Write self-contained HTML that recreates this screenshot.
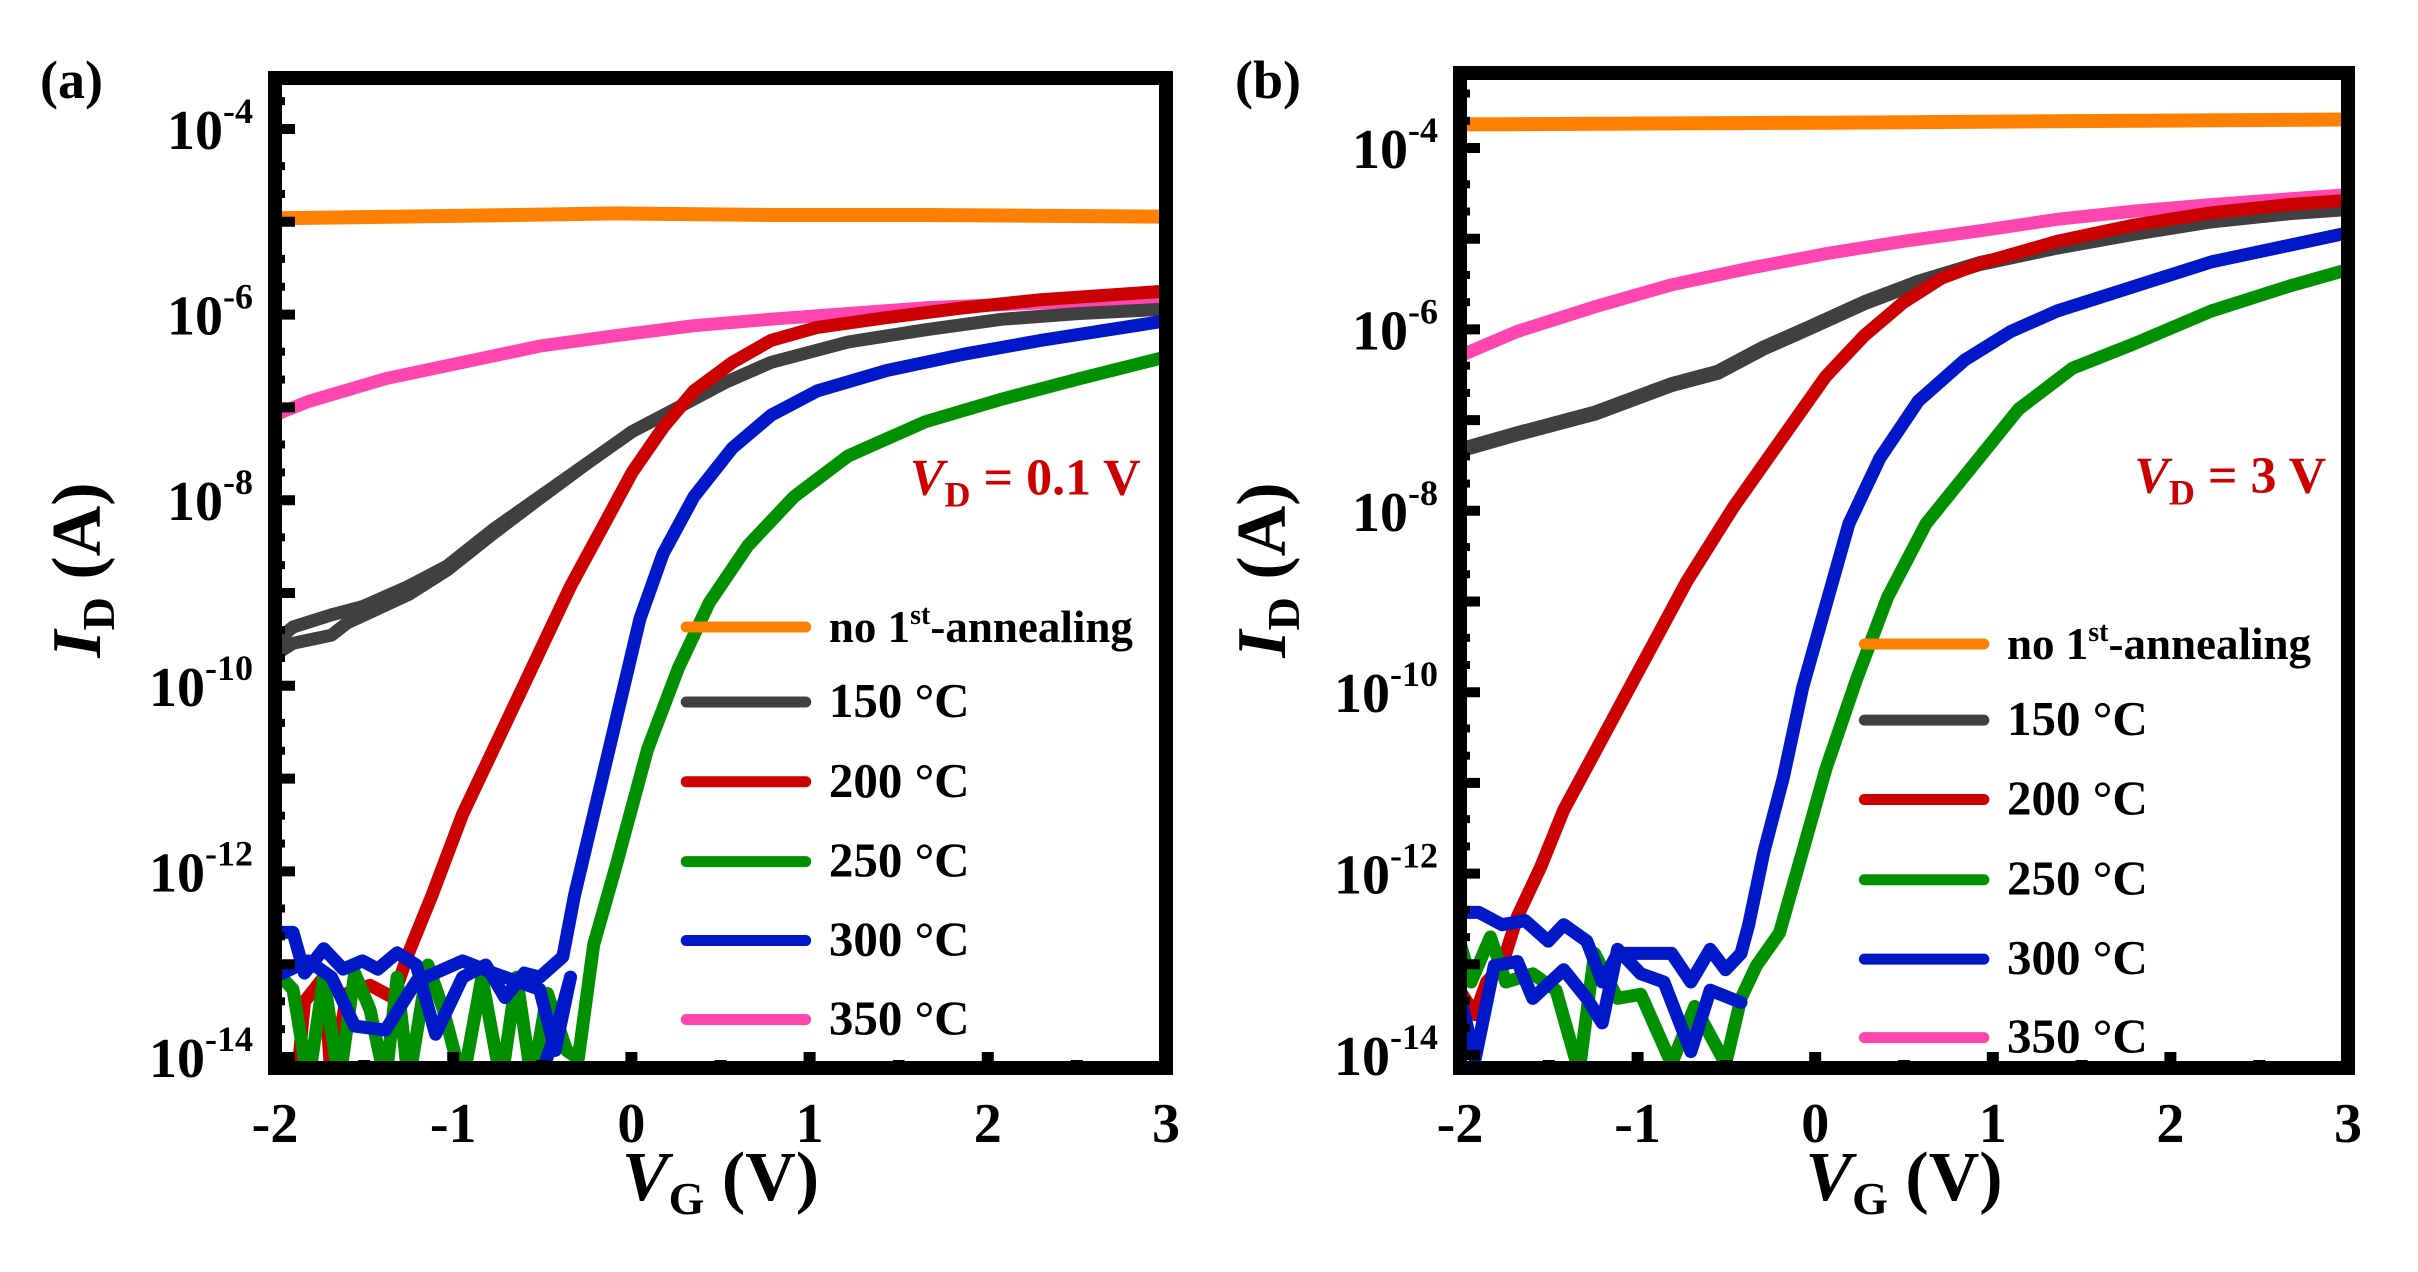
<!DOCTYPE html>
<html><head><meta charset="utf-8"><style>
body{margin:0;background:#fff}
svg{display:block}
text{font-family:"Liberation Serif",serif;font-weight:bold;fill:#000}
</style></head><body>
<svg id="s" width="2418" height="1272" viewBox="0 0 2418 1272" xmlns="http://www.w3.org/2000/svg"></svg>
<script>
const S=document.getElementById('s');let h='';
function pa(pts,ox,sy,c,w){let d='';for(let i=0;i<pts.length;i+=2){const x=ox+pts[i]/1.297,y=pts[i+1]/sy;d+=(i?'L':'M')+x.toFixed(1)+' '+y.toFixed(1);}
h+=`<path d="${d}" fill="none" stroke="${c}" stroke-width="${w}" stroke-linejoin="round" stroke-linecap="round"/>`;}
const O='#ff8000',G='#404040',R='#cc0000',Gr='#009000',B='#0018c8',P='#ff45b0';
function panel(L,Rr,T,Bt,yTop,dec,ox,sy,lbl,data,leg,vd){
 h+=`<clipPath id="c${ox}"><rect x="${L}" y="${T}" width="${Rr-L}" height="${Bt-T}"/></clipPath><g clip-path="url(#c${ox})">`;
 data.forEach(d=>pa(d[0],ox,sy,d[1],d[2]||13));
 h+='</g>';
 h+=`<rect x="${L}" y="${T}" width="${Rr-L}" height="${Bt-T}" fill="none" stroke="#000" stroke-width="14"/>`;
 const xs=(Rr-L)/5;
 for(let i=0;i<=10;i++){const x=L+i*xs/2;const len=i%2?8:16;h+=`<line x1="${x}" y1="${Bt}" x2="${x}" y2="${Bt-len}" stroke="#000" stroke-width="12"/>`;}
 for(let i=0;i<=5;i++){h+=`<text x="${L+i*xs}" y="${1142}" font-size="56" text-anchor="middle">${i-2}</text>`;}
 for(let e=-4;e>=-15;e--){const y=yTop+(-4-e)*dec;if(y>T&&y<Bt)h+=`<line x1="${L}" y1="${y}" x2="${L+20}" y2="${y}" stroke="#000" stroke-width="10"/>`;
  [0.3,0.6].forEach(m=>{const yy=y-m*dec;if(yy>T+6&&yy<Bt-6)h+=`<line x1="${L}" y1="${yy}" x2="${L+10}" y2="${yy}" stroke="#000" stroke-width="8"/>`;});
  if(e%2==0&&e>=-14){h+=`<text x="${L-22}" y="${y+20}" font-size="56" text-anchor="end">10<tspan font-size="36" dy="-26">${e}</tspan></text>`;}}
 h+=`<text x="${lbl[0]}" y="${lbl[1]}" font-size="54">${lbl[2]}</text>`;
 const cx=(L+Rr)/2;
 h+=`<text x="${cx}" y="1200" font-size="70" text-anchor="middle"><tspan font-style="italic">V</tspan><tspan font-size="46" dy="14">G</tspan><tspan dy="-14"> (V)</tspan></text>`;
 h+=`<text transform="translate(${L-175},570) rotate(-90)" font-size="70" text-anchor="middle"><tspan font-style="italic">I</tspan><tspan font-size="46" dy="14">D</tspan><tspan dy="-14"> (A)</tspan></text>`;
 const names=['no 1<tspan font-size="28" dy="-18">st</tspan><tspan dy="18">-annealing</tspan>','150 °C','200 °C','250 °C','300 °C','350 °C'];
 const cols=[O,G,R,Gr,B,P];
 leg[2].forEach((y,i)=>{const yy=y/sy;h+=`<line x1="${ox+leg[0]/1.297}" y1="${yy}" x2="${ox+leg[1]/1.297}" y2="${yy}" stroke="${cols[i]}" stroke-width="11" stroke-linecap="round"/>`;
  h+=`<text x="${ox+leg[3]/1.297}" y="${yy+15}" font-size="${i?49:45}">${names[i]}</text>`;});
 h+=`<text x="${ox+vd[0]/1.297}" y="${vd[1]/sy+18}" font-size="52" style="fill:#cc0000"><tspan font-style="italic">V</tspan><tspan font-size="36" dy="12">D</tspan><tspan dy="-12"> ${vd[2]}</tspan></text>`;
}
const A=[
[[360,268,600,265,800,262,1000,264,1200,264,1505,266],O,14],
[[355,510,400,493,500,465,600,445,700,425,800,412,900,400,1000,392,1100,385,1200,378,1300,374,1400,370,1505,368],P],
[[355,805,380,790,430,780,450,765,530,730,580,700,640,655,700,612,760,570,820,530,880,500,940,470,1000,445,1100,420,1200,405,1300,392,1400,385,1505,380],G],
[[355,790,380,770,430,755,470,745,530,720,580,695,640,650,700,610,760,570],G],
[[385,1330,395,1230,420,1200,430,1330,450,1220,480,1210,510,1225,530,1170,560,1100,600,1000,650,900,700,800,740,720,780,650,820,580,860,525,900,480,950,445,1000,418,1060,402,1150,390,1250,378,1350,368,1505,358],R],
[[355,1190,380,1215,400,1330,420,1200,440,1330,460,1195,480,1240,500,1330,515,1200,530,1330,555,1185,575,1240,600,1330,625,1200,650,1330,670,1200,690,1330,710,1220,735,1290,750,1300,770,1160,800,1060,840,920,880,820,920,740,970,670,1030,610,1100,560,1200,518,1300,490,1400,465,1505,440],Gr],
[[355,1200,400,1180,430,1200,460,1260,500,1265,540,1205,600,1180,640,1195,700,1215,720,1290,740,1200],B],
[[355,1145,380,1145,395,1195,420,1165,445,1190,470,1180,490,1190,515,1170,540,1185,565,1270,600,1200,630,1185,655,1225,680,1195,700,1200,730,1175,745,1100,770,1000,800,880,830,760,860,680,900,610,950,550,1000,510,1060,480,1150,455,1250,435,1350,418,1505,395],B],
[[700,1325,720,1270,740,1200],B]];
panel(275,1166,78,1068,129,92.8,0,1.228,[40,98,'(a)'],A,[890,1045,[770,862,960,1058,1155,1252],1075],[1180,585,'= 0.1 V']);
const Bd=[
[[325,152,800,150,1475,146],O,14],
[[325,435,400,405,500,375,600,348,700,328,800,310,900,295,1000,282,1100,268,1200,258,1300,250,1400,243,1475,238],P],
[[325,550,400,530,500,505,600,470,660,455,720,425,780,400,850,370,920,345,1000,322,1100,302,1200,285,1300,270,1400,260,1475,255],G,15],
[[325,1210,345,1240,360,1200,380,1180,400,1120,430,1060,460,990,500,920,540,850,580,780,620,710,680,620,740,540,800,460,850,410,900,370,950,340,1000,322,1100,295,1200,275,1300,260,1400,250,1475,245],R],
[[325,1150,340,1200,365,1145,385,1200,420,1190,450,1210,480,1310,500,1165,530,1220,560,1215,600,1300,630,1230,670,1300,690,1220,710,1180,740,1140,770,1040,800,940,840,830,880,730,930,640,990,570,1050,500,1120,450,1200,420,1300,380,1400,350,1475,330],Gr],
[[325,1215,345,1295,370,1180,400,1175,420,1220,460,1185,490,1220,510,1250,530,1160,560,1190,590,1200,625,1285,650,1210,690,1225],B],
[[325,1115,350,1115,380,1130,410,1125,440,1150,460,1130,490,1150,510,1200,530,1165,550,1165,570,1165,600,1165,625,1200,650,1160,670,1185,690,1165,700,1130,720,1040,745,950,770,840,800,740,830,640,870,560,920,490,980,440,1040,405,1100,380,1200,350,1300,320,1400,300,1475,285],B]];
panel(1460,2348,73,1068,148,90.7,1209,1.222,[1235,98,'(b)'],Bd,[850,1005,[787,880,977,1075,1172,1268],1035],[1200,580,'= 3 V']);
S.innerHTML=h;
</script>
</body></html>
